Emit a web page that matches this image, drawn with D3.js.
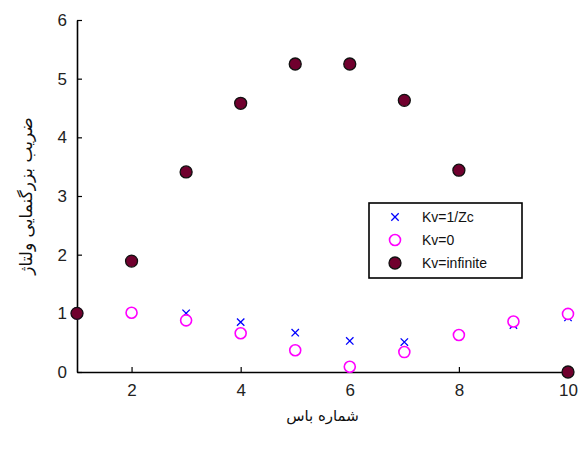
<!DOCTYPE html>
<html>
<head>
<meta charset="utf-8">
<script src="https://cdn.jsdelivr.net/npm/d3@7"></script>
<style>
  body { margin: 0; background: #fff; }
  svg { display: block; }
</style>
</head>
<body>
<div id="chart"></div>
<script>
// bus voltage amplification factor for three Kv cases
const buses = [1, 2, 3, 4, 5, 6, 7, 8, 9, 10];
const kvZc = [1.0, 1.01, 1.0, 0.85, 0.67, 0.53, 0.51, 0.63, 0.80, 0.93];
const kvZero = [1.0, 1.01, 0.88, 0.66, 0.37, 0.09, 0.34, 0.63, 0.86, 0.99];
const kvInf = [1.0, 1.89, 3.41, 4.58, 5.25, 5.25, 4.63, 3.44, 2.0, 0.0];
const xTicks = [2, 4, 6, 8, 10];
const yTicks = [0, 1, 2, 3, 4, 5, 6];
const legendLabels = ['Kv=1/Zc', 'Kv=0', 'Kv=infinite'];

(function() {
  const W = 583, H = 449;
  const margin = { top: 20, right: 15, bottom: 77, left: 77 };
  const width = W - margin.left - margin.right;
  const height = H - margin.top - margin.bottom;

  const svg = d3.select('#chart')
    .append('svg')
    .attr('width', W)
    .attr('height', H);

  const g = svg.append('g')
    .attr('transform', `translate(${margin.left}, ${margin.top})`);

  const x = d3.scaleLinear().domain([1, 10]).range([0, width]);
  const y = d3.scaleLinear().domain([0, 6]).range([height, 0]);

  // axes, ticks pointing inward like matlab
  const xAxis = g.append('g')
    .attr('transform', `translate(0, ${height})`)
    .call(d3.axisBottom(x).tickValues(xTicks).tickFormat(d3.format('d'))
      .tickSizeInner(-5).tickSizeOuter(0).tickPadding(12));
  const yAxis = g.append('g')
    .call(d3.axisLeft(y).tickValues(yTicks).tickFormat(d3.format('d'))
      .tickSizeInner(-5).tickSizeOuter(0).tickPadding(10));

  [xAxis, yAxis].forEach(a => {
    a.select('.domain').attr('stroke', '#000').attr('stroke-width', 1.6);
    a.selectAll('line').attr('stroke', '#000').attr('stroke-width', 1.2);
    a.selectAll('text')
      .style('font-family', '"Liberation Sans", Arial, sans-serif')
      .style('font-size', '17px')
      .style('fill', '#222');
  });

  const zc = buses.map((b, i) => ({ b, v: kvZc[i] }));
  const zero = buses.map((b, i) => ({ b, v: kvZero[i] }));
  const inf = buses.map((b, i) => ({ b, v: kvInf[i] }));

  function cross(sel, s) {
    sel.append('path')
      .attr('d', `M${-s},${-s}L${s},${s}M${-s},${s}L${s},${-s}`)
      .attr('stroke', '#0000ff')
      .attr('stroke-width', 1.3)
      .attr('fill', 'none');
  }

  // Kv=1/Zc crosses
  g.selectAll('.zc')
    .data(zc)
    .enter()
    .append('g')
    .attr('class', 'zc')
    .attr('transform', d => `translate(${x(d.b)}, ${y(d.v)})`)
    .call(cross, 3.7);

  // Kv=0 circles (white face, drawn over the crosses)
  g.selectAll('.zero')
    .data(zero)
    .enter()
    .append('circle')
    .attr('class', 'zero')
    .attr('cx', d => x(d.b))
    .attr('cy', d => y(d.v))
    .attr('r', 5.5)
    .attr('fill', '#fff')
    .attr('stroke', '#ff00ff')
    .attr('stroke-width', 1.6);

  // Kv=infinite filled circles
  g.selectAll('.inf')
    .data(inf)
    .enter()
    .append('circle')
    .attr('class', 'inf')
    .attr('cx', d => x(d.b))
    .attr('cy', d => y(d.v))
    .attr('r', 6)
    .attr('fill', '#70002e')
    .attr('stroke', '#111')
    .attr('stroke-width', 1.3);

  // legend
  const legend = svg.append('g')
    .attr('transform', 'translate(369, 203)');
  legend.append('rect')
    .attr('width', 153)
    .attr('height', 75)
    .attr('fill', '#fff')
    .attr('stroke', '#000')
    .attr('stroke-width', 1.6);

  const items = legend.selectAll('.legend-item')
    .data(legendLabels)
    .enter()
    .append('g')
    .attr('class', 'legend-item')
    .attr('transform', (d, i) => `translate(26, ${14 + i * 23})`);

  items.filter((d, i) => i === 0).call(cross, 3.7);
  items.filter((d, i) => i === 1).append('circle')
    .attr('r', 5.5).attr('fill', '#fff').attr('stroke', '#ff00ff').attr('stroke-width', 1.6);
  items.filter((d, i) => i === 2).append('circle')
    .attr('r', 6).attr('fill', '#70002e').attr('stroke', '#111').attr('stroke-width', 1.3);

  items.append('text')
    .attr('x', 27)
    .attr('y', 5)
    .style('font-family', '"Liberation Sans", Arial, sans-serif')
    .style('font-size', '14px')
    .style('fill', '#111')
    .text(d => d);

  // axis titles
  svg.append('text')
    .attr('x', margin.left + width / 2)
    .attr('y', 421)
    .attr('text-anchor', 'middle')
    .style('font-family', '"DejaVu Sans", sans-serif')
    .style('font-size', '15px')
    .style('fill', '#111')
    .text('شماره باس');

  svg.append('text')
    .attr('transform', `translate(32, ${margin.top + height / 2}) rotate(-90)`)
    .attr('text-anchor', 'middle')
    .style('font-family', '"DejaVu Sans", sans-serif')
    .style('font-size', '17px')
    .style('fill', '#111')
    .text('ضریب بزرگنمایی ولتاژ');
})();
</script>
</body>
</html>
